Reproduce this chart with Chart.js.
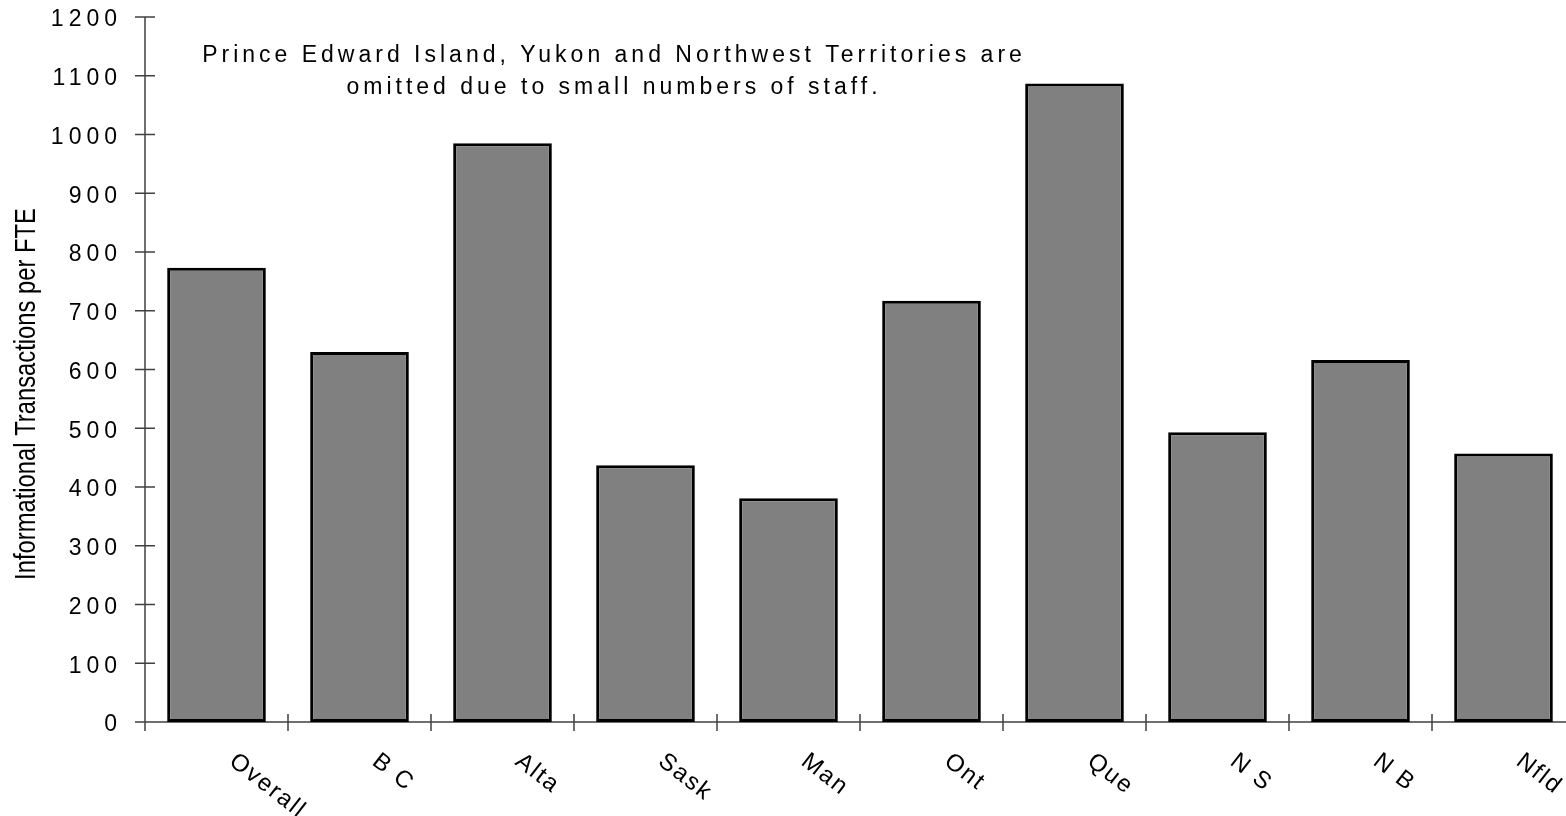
<!DOCTYPE html>
<html>
<head>
<meta charset="utf-8">
<script src="https://cdn.jsdelivr.net/npm/chart.js@4"></script>
<style>
html, body { margin: 0; padding: 0; background: #fff; overflow: hidden; }
canvas { display: block; }
</style>
</head>
<body>
<canvas id="grafico" width="1590" height="816"></canvas>
<script>
const provincias = ['Overall', 'B C', 'Alta', 'Sask', 'Man', 'Ont', 'Que', 'N S', 'N B', 'Nfld'];
const transacoes = [773, 630, 985, 437, 381, 717, 1087, 493, 616, 457];
const ticksY = [0, 100, 200, 300, 400, 500, 600, 700, 800, 900, 1000, 1100, 1200];
const tituloY = 'Informational Transactions per FTE';
const nota = [
  'Prince Edward Island, Yukon and Northwest Territories are',
  'omitted due to small numbers of staff.'
];

const fonte = '"Liberation Sans", Arial, sans-serif';

// eixos e marcas que cruzam a linha, como no original
const eixos = {
  id: 'eixos',
  beforeDatasetsDraw(chart) {
    const ctx = chart.ctx;
    const a = chart.chartArea;
    const x = chart.scales.x;
    const y = chart.scales.y;
    const passo = x.getPixelForValue(1) - x.getPixelForValue(0);

    ctx.save();
    ctx.strokeStyle = '#404040';
    ctx.lineWidth = 1.5;
    ctx.beginPath();
    ctx.moveTo(a.left, y.getPixelForValue(1200));
    ctx.lineTo(a.left, a.bottom);
    ctx.moveTo(a.left - 10, a.bottom);
    ctx.lineTo(chart.width, a.bottom);
    ticksY.forEach(function (v) {
      const py = y.getPixelForValue(v);
      ctx.moveTo(a.left - 10, py);
      ctx.lineTo(a.left + 10, py);
    });
    for (let i = 0; i <= provincias.length; i++) {
      const px = x.getPixelForValue(i) - passo / 2;
      ctx.moveTo(px, a.bottom - 8);
      ctx.lineTo(px, a.bottom + 9);
    }
    ctx.stroke();
    ctx.restore();
  },
  afterDraw(chart) {
    const ctx = chart.ctx;
    const a = chart.chartArea;
    const x = chart.scales.x;
    const y = chart.scales.y;

    ctx.save();
    ctx.fillStyle = '#000';

    // rotulos do eixo y
    ctx.font = '23px ' + fonte;
    ctx.letterSpacing = '5px';
    ctx.textAlign = 'right';
    ctx.textBaseline = 'middle';
    ticksY.forEach(function (v) {
      ctx.fillText(String(v), a.left - 23, y.getPixelForValue(v) + 3);
    });

    // rotulos das categorias, inclinados para baixo
    ctx.font = '24px ' + fonte;
    ctx.letterSpacing = '2px';
    ctx.textAlign = 'left';
    ctx.textBaseline = 'top';
    provincias.forEach(function (nome, i) {
      ctx.save();
      ctx.translate(x.getPixelForValue(i) + 23, a.bottom + 27);
      ctx.rotate(38 * Math.PI / 180);
      ctx.fillText(nome, 0, 0);
      ctx.restore();
    });

    // nota no topo
    ctx.font = '23px ' + fonte;
    ctx.letterSpacing = '4px';
    ctx.textAlign = 'center';
    ctx.textBaseline = 'alphabetic';
    ctx.fillText(nota[0], 614, 62);
    ctx.fillText(nota[1], 614, 94);

    // titulo do eixo y (fonte estreita)
    ctx.letterSpacing = '0px';
    ctx.font = '29px ' + fonte;
    ctx.textBaseline = 'middle';
    ctx.translate(27, 394);
    ctx.rotate(-Math.PI / 2);
    ctx.scale(0.82, 1);
    ctx.fillText(tituloY, 0, 0);
    ctx.restore();
  }
};

new Chart(document.getElementById('grafico'), {
  type: 'bar',
  data: {
    labels: provincias,
    datasets: [{
      data: transacoes,
      backgroundColor: '#808080',
      borderColor: '#000',
      borderWidth: 3,
      borderSkipped: false,
      categoryPercentage: 1,
      barPercentage: 0.69
    }]
  },
  options: {
    responsive: false,
    animation: false,
    layout: { padding: { left: 145, right: 15, top: 17, bottom: 94 } },
    plugins: { legend: { display: false }, tooltip: { enabled: false } },
    scales: {
      x: { display: false },
      y: { display: false, min: 0, max: 1200 }
    }
  },
  plugins: [eixos]
});
</script>
</body>
</html>
